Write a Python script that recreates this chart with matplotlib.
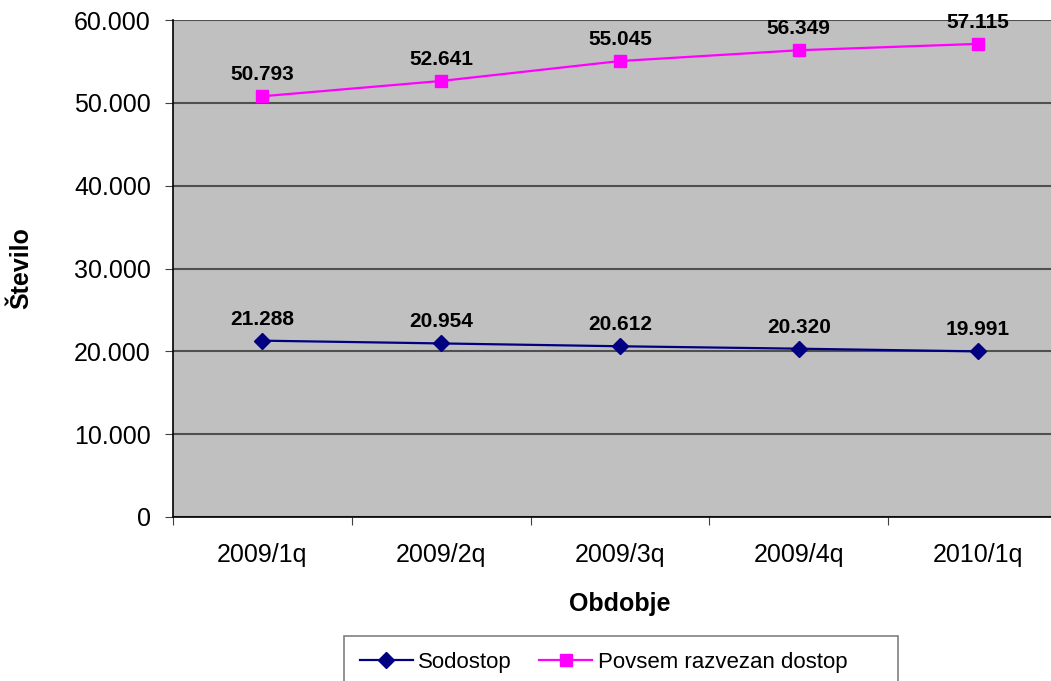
import matplotlib
matplotlib.use("Agg")
import matplotlib.pyplot as plt
from matplotlib.patches import Rectangle
from matplotlib.ticker import FuncFormatter, FixedLocator

plt.rcParams["font.family"] = ["Liberation Sans", "DejaVu Sans"]

periods = ["2009/1q", "2009/2q", "2009/3q", "2009/4q", "2010/1q"]
sodostop = [21288, 20954, 20612, 20320, 19991]
razvezan = [50793, 52641, 55045, 56349, 57115]


def dotted(v, _pos=None):
    return f"{int(round(v)):,}".replace(",", ".")


W, H = 1051, 681
fig = plt.figure(figsize=(W / 100, H / 100), dpi=100)
ax = fig.add_axes([173 / W, 1 - 517 / H, (1067 - 173) / W, (517 - 20) / H])
ax.set_facecolor("#c0c0c0")

x = range(len(periods))
ax.plot(x, sodostop, color="#000080", lw=1.6, marker="D", ms=8.5,
        label="Sodostop", zorder=3)
ax.plot(x, razvezan, color="#ff00ff", lw=1.6, marker="s", ms=8.5,
        label="Povsem razvezan dostop", zorder=3)

for series in (sodostop, razvezan):
    for i, v in enumerate(series):
        ax.annotate(dotted(v), (i, v), xytext=(0, 15.5), textcoords="offset points",
                    ha="center", va="center", fontsize=15, fontweight="bold")

ax.set_xlim(-0.5, len(periods) - 0.5)
ax.set_ylim(0, 60000)
ax.set_yticks(range(0, 60001, 10000))
ax.yaxis.set_major_formatter(FuncFormatter(dotted))
ax.yaxis.grid(True, color="#505050", lw=1.5)
ax.set_axisbelow(True)

# category labels centred, tick marks between categories
ax.xaxis.set_major_locator(FixedLocator([i - 0.5 for i in range(len(periods) + 1)]))
ax.xaxis.set_major_formatter(FuncFormatter(lambda v, p: ""))
ax.xaxis.set_minor_locator(FixedLocator(list(x)))
ax.set_xticklabels(periods, minor=True)
ax.tick_params(axis="x", which="minor", length=0, pad=19, labelsize=18)
ax.tick_params(axis="x", which="major", length=6, color="#404040")
ax.tick_params(axis="y", length=6, labelsize=18, pad=10, color="#404040")

for side in ("top", "right"):
    ax.spines[side].set_visible(False)
for side in ("left", "bottom"):
    ax.spines[side].set_color("black")
    ax.spines[side].set_linewidth(1.2)

ax.set_xlabel("Obdobje", fontsize=18, fontweight="bold", labelpad=18)
ax.set_ylabel("Število", fontsize=18, fontweight="bold")
ax.yaxis.set_label_coords(-0.1566, 0.5)

# legend box (wider than its contents, running off the bottom edge)
fig.add_artist(Rectangle((344 / W, -0.05), (898 - 344) / W, 0.05 + 1 - 636 / H,
                         transform=fig.transFigure, facecolor="white",
                         edgecolor="#808080", lw=1.2, zorder=1))
leg = fig.legend(loc="upper left", bbox_to_anchor=(344 / W, 1 - 636 / H),
                 borderaxespad=0, ncol=2, fontsize=16, frameon=False,
                 borderpad=0.7, handlelength=2.4,
                 columnspacing=1.2, handletextpad=0.25)
leg.set_zorder(2)

fig.savefig("out.png", dpi=100)
